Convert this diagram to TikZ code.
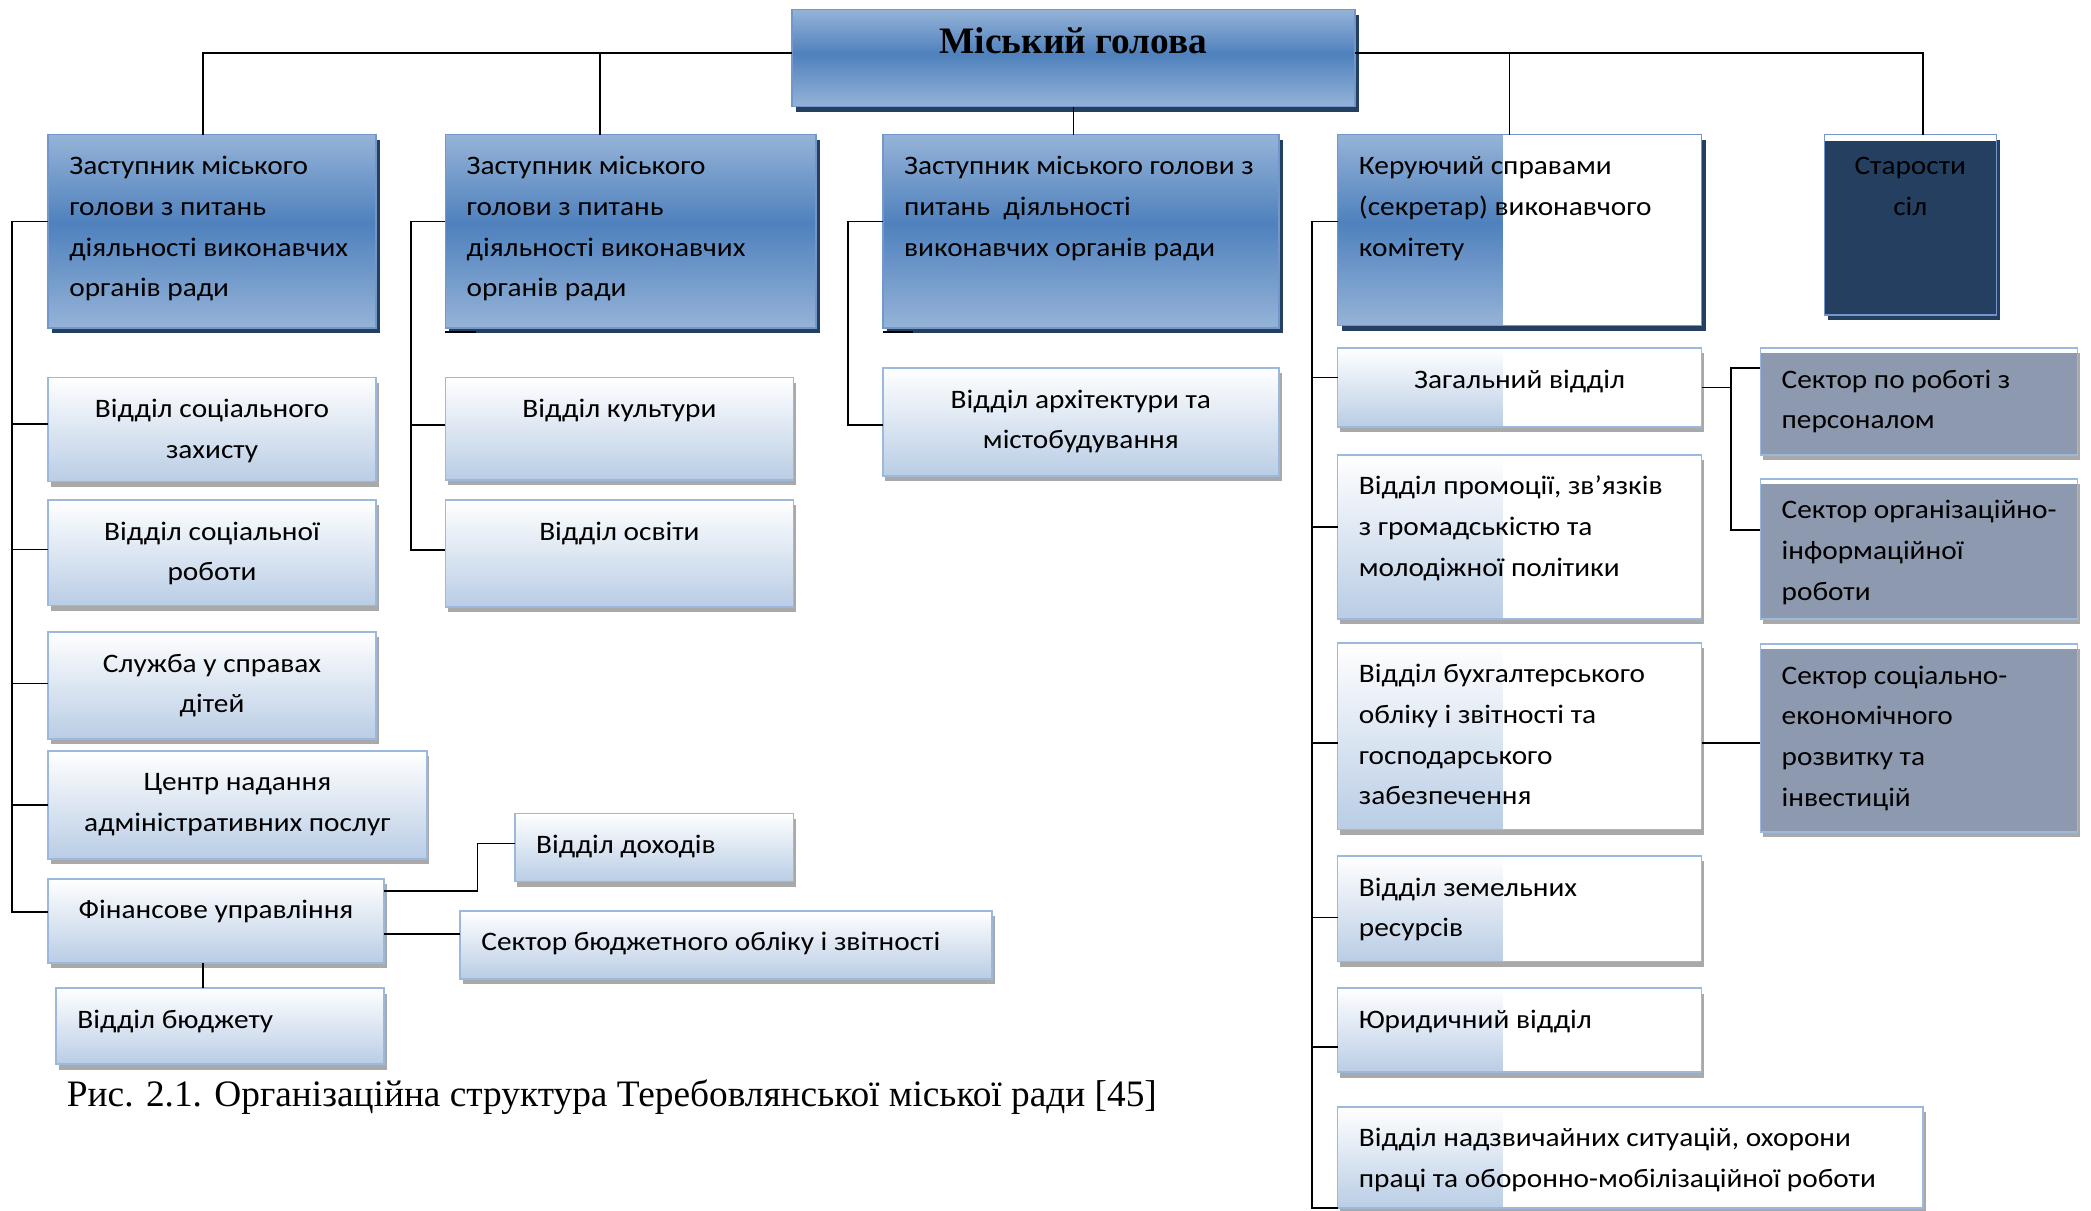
\documentclass[tikz,border=0pt]{standalone}
\usepackage{fontspec}
\setmainfont{Carlito}[FakeStretch=1.1]
\newfontfamily\tnr{Liberation Serif}
\usetikzlibrary{shadows}

\definecolor{depA}{HTML}{95B3D7}
\definecolor{depB}{HTML}{4F81BD}
\definecolor{depbd}{HTML}{7396CB}
\definecolor{navy}{HTML}{243F60}
\definecolor{ltB}{HTML}{B9CDE5}
\definecolor{ltbd}{HTML}{9CB8DC}
\definecolor{shd}{HTML}{A9A9A9}
\definecolor{slate}{HTML}{8C99AE}

\pgfdeclareverticalshading{depshade}{100bp}{color(0bp)=(depA); color(25bp)=(depA); color(52bp)=(depB); color(75bp)=(depA); color(100bp)=(depA)}

\newcommand{\bxalign}{\raggedright}

\tikzset{
  % box of given width and height, text from the top
  box/.style 2 args={anchor=north west, inner sep=0pt, outer sep=0pt, line width=1.2pt,
    execute at begin node={\begin{minipage}[t][#2pt][t]{#1pt}\fontsize{20}{30.5}\selectfont\bxalign\rule{0pt}{30pt}},
    execute at end node={\end{minipage}}},
  lft/.code={\def\bxalign{\raggedright\leftskip=16pt}},
  ctr/.code={\def\bxalign{\centering}},
  navyshadow/.style={drop shadow={shadow xshift=3pt, shadow yshift=-4pt, fill=navy, opacity=1}},
  grayshadow/.style={drop shadow={shadow xshift=2pt, shadow yshift=-4pt, fill=shd, opacity=1}},
  dep/.style={draw=depbd, shade, shading=depshade, navyshadow},
  light/.style={draw=ltbd, top color=white, bottom color=ltB, grayshadow},
  half/.style={draw=ltbd, fill=white, grayshadow,
    path picture={\fill[top color=white, bottom color=ltB] (path picture bounding box.north west) rectangle ([xshift=124pt]path picture bounding box.south west);}},
  halfdep/.style={draw=depbd, fill=white, navyshadow,
    path picture={\shade[shading=depshade] (path picture bounding box.north west) rectangle ([xshift=124pt]path picture bounding box.south west);}},
  grey/.style={draw=ltbd, fill=white, grayshadow,
    path picture={\fill[slate] ([yshift=-4pt]path picture bounding box.north west) rectangle (path picture bounding box.south east);}},
  starbox/.style={draw=depbd, fill=white, navyshadow,
    path picture={\fill[navy] ([yshift=-5pt]path picture bounding box.north west) rectangle (path picture bounding box.south east);}},
  conn/.style={line width=1.3pt, black},
}

\begin{document}
\begin{tikzpicture}[x=1pt, y=-1pt]
    \useasboundingbox (0,0) rectangle (1568,908);

    % міський голова і заступники
    \node[box={422}{73}, ctr, dep] (mayor) at (594,7) {{\tnr\bfseries\fontsize{28}{30}\selectfont\rule{0pt}{33pt}Міський голова}};
    \node[box={246}{145}, lft, dep] (d1) at (36,101) {Заступник міського\\голови з питань\\діяльності виконавчих\\органів ради};
    \node[box={278}{145}, lft, dep] (d2) at (334,101) {Заступник міського\\голови з питань\\діяльності виконавчих\\органів ради};
    \node[box={297}{145}, lft, dep] (d3) at (662,101) {Заступник міського голови з\\питань\ \ діяльності\\виконавчих органів ради};
    \node[box={273}{143}, lft, halfdep] (sec) at (1003,101) {Керуючий справами\\(секретар) виконавчого\\комітету};
    \node[box={129}{135}, ctr, starbox] (star) at (1368,101) {Старости\\сіл};

    % ліва колонка
    \node[box={246}{78}, ctr, light] (szah) at (36,283) {Відділ соціального\\захисту};
    \node[box={246}{79}, ctr, light] (srob) at (36,375) {Відділ соціальної\\роботи};
    \node[box={246}{80}, ctr, light] (dity) at (36,474) {Служба у справах\\дітей};
    \node[box={284}{81}, ctr, light] (cnap) at (36,563) {Центр надання\\адміністративних послуг};
    \node[box={252}{63}, ctr, light] (fin) at (36,659) {Фінансове управління};
    \node[box={209}{51}, lft, light] (dohid) at (386,610) {Відділ доходів};
    \node[box={399}{51}, lft, light] (sbo) at (345,683) {Сектор бюджетного обліку і звітності};
    \node[box={246}{57}, lft, light] (budg) at (42,741) {Відділ бюджету};

    % друга і третя колонки
    \node[box={261}{77}, ctr, light] (kult) at (334,283) {Відділ культури};
    \node[box={261}{80}, ctr, light] (osv) at (334,375) {Відділ освіти};
    \node[box={297}{81}, ctr, light] (arch) at (662,276) {Відділ архітектури та\\містобудування};

    % відділи керуючого справами
    \node[box={273}{59}, ctr, half] (zag) at (1003,261) {Загальний відділ};
    \node[box={273}{123}, lft, half] (prom) at (1003,341) {Відділ промоції, зв’язків\\з громадськістю та\\молодіжної політики};
    \node[box={273}{140}, lft, half] (buh) at (1003,482) {Відділ бухгалтерського\\обліку і звітності та\\господарського\\забезпечення};
    \node[box={273}{79}, lft, half] (zem) at (1003,642) {Відділ земельних\\ресурсів};
    \node[box={273}{63}, lft, half] (yur) at (1003,741) {Юридичний відділ};
    \node[box={439}{76}, lft, half] (nadz) at (1003,830) {Відділ надзвичайних ситуацій, охорони\\праці та оборонно-мобілізаційної роботи};

    % сектори
    \node[box={238}{80}, lft, grey] (spers) at (1320,261) {Сектор по роботі з\\персоналом};
    \node[box={238}{105}, lft, grey] (sorg) at (1320,359) {Сектор організаційно-\\інформаційної\\роботи};
    \node[box={238}{141}, lft, grey] (ssoc) at (1320,483) {Сектор соціально-\\економічного\\розвитку та\\інвестицій};

    % підпис
    \node[anchor=base west, inner sep=0pt, font=\tnr\fontsize{28}{30}\selectfont] (cap) at (50,830) {Рис. 2.1. Організаційна структура Теребовлянської міської ради [45]};

    % верхні лінії
    \draw[conn] ([yshift=3.5pt]mayor.west) -| ([xshift=-7pt]d1.north);
    \draw[conn] ([yshift=3.5pt]mayor.west) -| ([xshift=-23pt]d2.north);
    \draw[conn] ([yshift=3.5pt]mayor.east) -| ([xshift=-7.5pt]sec.north);
    \draw[conn] ([yshift=3.5pt]mayor.east) -| ([xshift=9.5pt]star.north);
    \draw[conn] (mayor.south) -- (mayor.south |- d3.north);

    % ліва шина
    \coordinate (sp1) at (9,166);
    \draw[conn] ([yshift=7.5pt]d1.west) -- (sp1) |- ([yshift=6.5pt]fin.west);
    \draw[conn] (sp1) |- ([yshift=4pt]szah.west);
    \draw[conn] (sp1) |- ([yshift=2.5pt]srob.west);
    \draw[conn] (sp1) |- ([yshift=1.5pt]dity.west);
    \draw[conn] (sp1) |- (cnap.west);
    \draw[conn] ([yshift=22.5pt]fin.east) -- ++(70pt,0pt) |- ([yshift=3pt]dohid.west);
    \draw[conn] ([yshift=-10pt]fin.east) -- ([yshift=-10pt]fin.east -| sbo.west);
    \draw[conn] ([xshift=-10pt]fin.south) -- ([xshift=-10pt]fin.south |- budg.north);

    % друга і третя шини
    \coordinate (sp2) at (308,166);
    \draw[conn] ([yshift=7.5pt]d2.west) -- (sp2) |- ([yshift=2.5pt]osv.west);
    \draw[conn] (sp2) |- ([yshift=3pt]kult.west);
    \coordinate (sp3) at (636,166);
    \draw[conn] ([yshift=7.5pt]d3.west) -- (sp3) |- ([yshift=-2pt]arch.west);
    \draw[conn] ([yshift=-3pt]d2.south west) -- ++(23pt,0pt);
    \draw[conn] ([yshift=-3pt]d3.south west) -- ++(23pt,0pt);

    % шина керуючого справами
    \coordinate (sp4) at (984,166);
    \draw[conn] ([yshift=6.5pt]sec.west) -- (sp4) |- (nadz.south west);
    \draw[conn] (sp4) |- ([yshift=7.5pt]zag.west);
    \draw[conn] (sp4) |- ([yshift=7.5pt]prom.west);
    \draw[conn] (sp4) |- ([yshift=-5pt]buh.west);
    \draw[conn] (sp4) |- ([yshift=-6.5pt]zem.west);
    \draw[conn] (sp4) |- ([yshift=-12.5pt]yur.west);
    \draw[conn] (zag.east) -- ++(22pt,0pt);
    \draw[conn] ([yshift=25pt]spers.west) -- ++(-22pt,0pt) |- ([yshift=14pt]sorg.west);
    \draw[conn] ([yshift=-5pt]buh.east) -- ([yshift=-5pt]buh.east -| ssoc.west);
\end{tikzpicture}
\end{document}
